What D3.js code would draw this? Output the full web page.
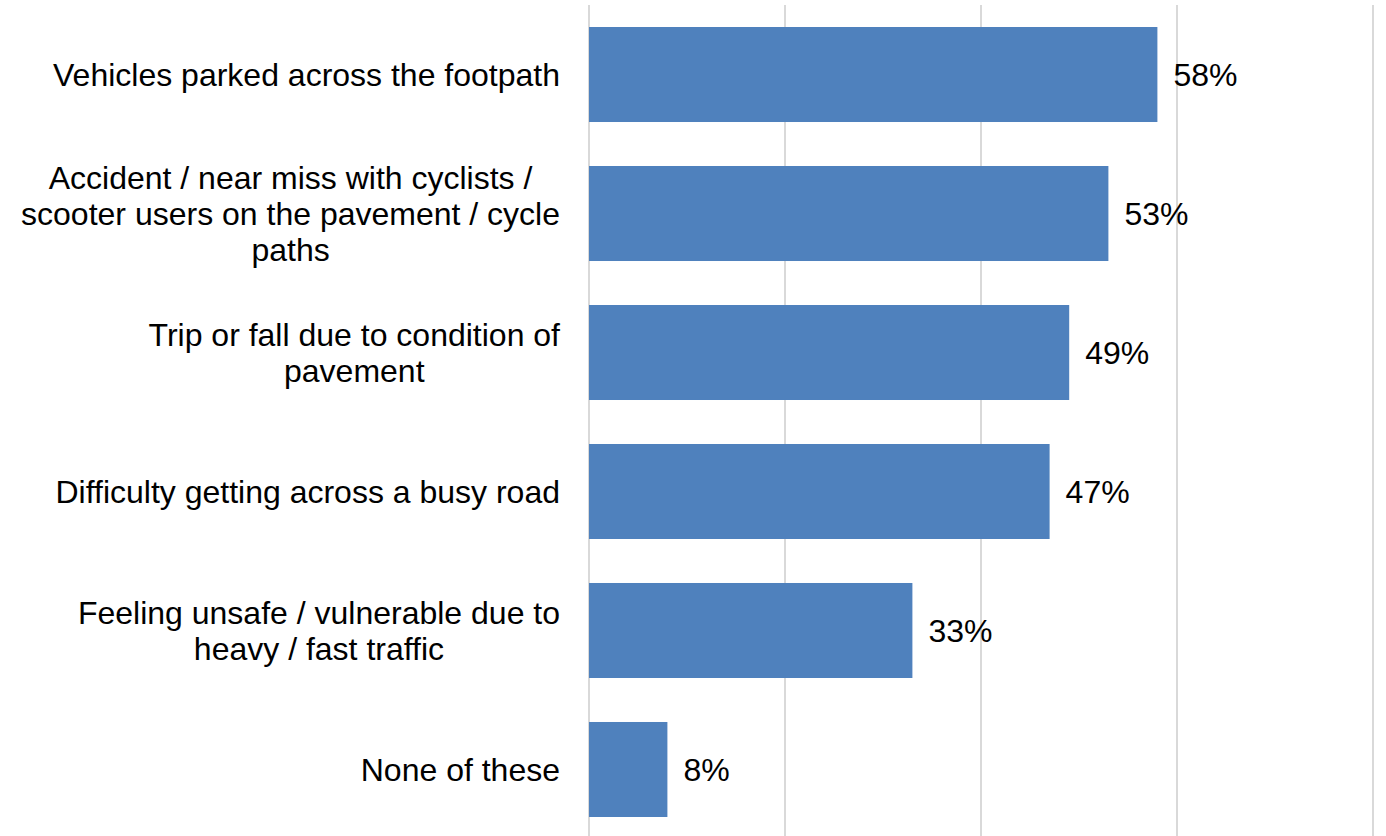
<!DOCTYPE html>
<html>
<head>
<meta charset="utf-8">
<script src="https://cdn.jsdelivr.net/npm/d3@7"></script>
<style>
  html, body { margin: 0; padding: 0; background: #ffffff; }
  svg { display: block; }
</style>
</head>
<body>
<svg id="chart" width="1386" height="836"></svg>
<script>
const categories = [
  "Vehicles parked across the footpath",
  "Accident / near miss with cyclists /\nscooter users on the pavement / cycle\npaths",
  "Trip or fall due to condition of\npavement",
  "Difficulty getting across a busy road",
  "Feeling unsafe / vulnerable due to\nheavy / fast traffic",
  "None of these"
];
const values = [0.58, 0.53, 0.49, 0.47, 0.33, 0.08];
const valueLabels = ["58%", "53%", "49%", "47%", "33%", "8%"];
const gridTicks = [0, 0.2, 0.4, 0.6, 0.8];

const svg = d3.select("#chart");
const W = 1386, H = 836;
const fontFamily = "'Liberation Sans', Arial, sans-serif";

const x = d3.scaleLinear().domain([0, 0.8]).range([589, 1373]);
const y = d3.scaleBand().domain(categories).range([5, 839])
  .paddingInner(0.3165).paddingOuter(0.1583);

// gridlines
svg.append("g").selectAll("line").data(gridTicks).join("line")
  .attr("x1", d => x(d)).attr("x2", d => x(d))
  .attr("y1", 5).attr("y2", H)
  .attr("stroke", "#d9d9d9").attr("stroke-width", 2);

// bars
svg.append("g").selectAll("rect").data(categories).join("rect")
  .attr("x", x(0))
  .attr("y", d => y(d))
  .attr("width", (d, i) => x(values[i]) - x(0))
  .attr("height", y.bandwidth())
  .attr("fill", "#4f81bd");

// value labels
svg.append("g").selectAll("text").data(categories).join("text")
  .attr("x", (d, i) => x(values[i]) + 16)
  .attr("y", d => y(d) + y.bandwidth() / 2 + 11.2)
  .attr("font-family", fontFamily)
  .attr("font-size", 32)
  .attr("fill", "#000")
  .text((d, i) => valueLabels[i]);

// category labels
const lineH = 36;
const lab = svg.append("g").selectAll("text").data(categories).join("text")
  .attr("text-anchor", "middle")
  .attr("font-family", fontFamily)
  .attr("font-size", 32)
  .attr("fill", "#000");

lab.each(function(d) {
  const lines = d.split("\n");
  const t = d3.select(this);
  const cy = y(d) + y.bandwidth() / 2;
  const n = lines.length;
  lines.forEach((ln, k) => {
    t.append("tspan")
      .attr("y", cy + (k - (n - 1) / 2) * lineH + 11.2)
      .text(ln);
  });
});

// position lines: center each label block so that the widest line ends at x=560
lab.each(function() {
  const t = d3.select(this);
  const tspans = t.selectAll("tspan");
  let maxW = 0;
  tspans.each(function() { maxW = Math.max(maxW, this.getComputedTextLength()); });
  const cx = 560 - maxW / 2;
  tspans.attr("x", cx);
});
</script>
</body>
</html>
